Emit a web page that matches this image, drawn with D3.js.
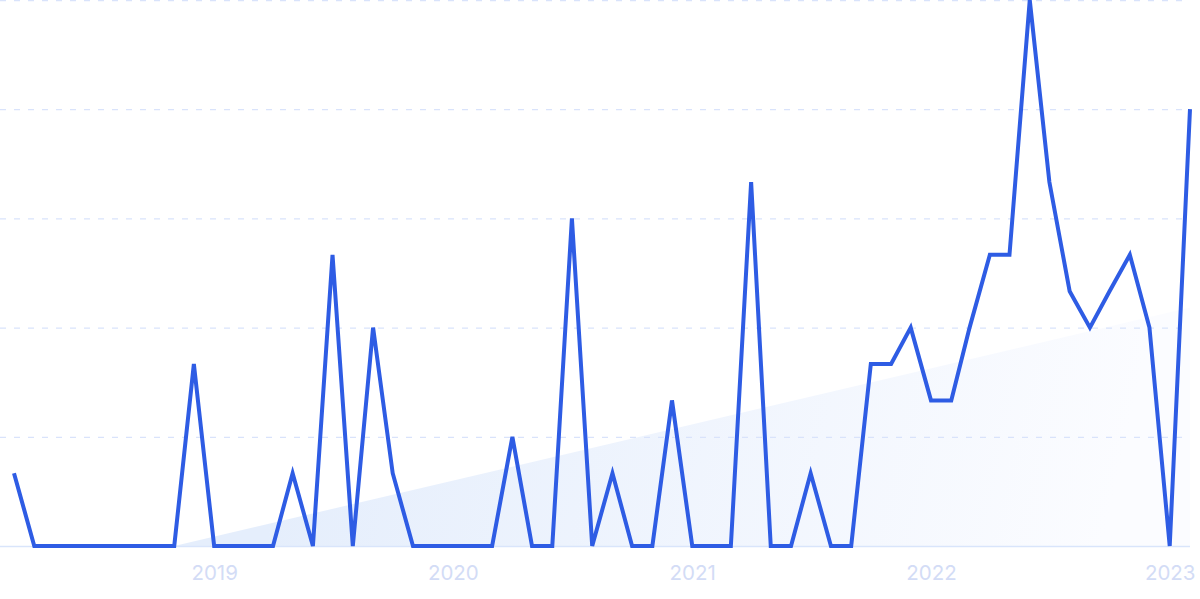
<!DOCTYPE html>
<html>
<head>
<meta charset="utf-8">
<script src="https://cdn.jsdelivr.net/npm/d3@7"></script>
<style>
html,body{margin:0;padding:0;background:#fff;}
svg{display:block;}
</style>
</head>
<body>
<svg id="chart" width="1200" height="599"></svg>
<script>
// Monthly values, March 2018 .. February 2023
const startMonth = "2018-03";
const values = [
  2, 0, 0, 0, 0, 0, 0, 0, 0, 5,
  0, 0, 0, 0, 2, 0, 8, 0, 6, 2,
  0, 0, 0, 0, 0, 3, 0, 0, 9, 0,
  2, 0, 0, 4, 0, 0, 0, 10, 0, 0,
  2, 0, 0, 5, 5, 6, 4, 4, 6, 8,
  8, 15, 10, 7, 6, 7, 8, 6, 0, 12
];
const tickLabels = ["2019", "2020", "2021", "2022", "2023"];
const gridValues = [0, 3, 6, 9, 12, 15];
// Trend band: start and end (date, value)
const trendDates = ["2018-11", "2023-02"];
const trendValues = [0, 6.55];

const parse = d3.timeParse("%Y-%m");
const start = parse(startMonth);
const data = values.map((v, i) => ({date: d3.timeMonth.offset(start, i), value: v}));
const trend = trendDates.map((d, i) => ({date: parse(d), value: trendValues[i]}));

const svg = d3.select("#chart");
const x = d3.scaleTime()
  .domain([data[0].date, data[data.length - 1].date])
  .range([14, 1190]);
const y = d3.scaleLinear().domain([0, 15]).range([546, 0]);

const defs = svg.append("defs");
const grad = defs.append("linearGradient")
  .attr("id", "trendGrad")
  .attr("gradientUnits", "userSpaceOnUse")
  .attr("x1", 300).attr("y1", 380).attr("x2", 1100).attr("y2", 560);
grad.append("stop").attr("offset", "0").attr("stop-color", "#e5eefc");
grad.append("stop").attr("offset", "1").attr("stop-color", "#fbfcff");

// trend area
svg.append("path")
  .datum(trend)
  .attr("fill", "url(#trendGrad)")
  .attr("d", d3.area().x(d => x(d.date)).y0(y(0)).y1(d => y(d.value)));

// gridlines
svg.append("g")
  .selectAll("line")
  .data(gridValues.filter(v => v > 0))
  .join("line")
  .attr("x1", 0).attr("x2", 1186)
  .attr("y1", d => y(d) + 0.5).attr("y2", d => y(d) + 0.5)
  .attr("stroke", "#d9e3fb")
  .attr("stroke-width", 1.3)
  .attr("stroke-dasharray", "6,8");

// baseline
svg.append("line")
  .attr("x1", 0).attr("x2", 1190)
  .attr("y1", y(0) + 0.5).attr("y2", y(0) + 0.5)
  .attr("stroke", "#d9e5fb")
  .attr("stroke-width", 1.5);

// x axis labels
const tickDates = tickLabels.map(t => d3.timeParse("%Y")(t));
const xAxis = d3.axisBottom(x)
  .tickValues(tickDates)
  .tickFormat((d, i) => tickLabels[i])
  .tickSize(0)
  .tickPadding(0);
const gx = svg.append("g")
  .attr("transform", "translate(0,580)")
  .call(xAxis);
gx.select(".domain").remove();
gx.selectAll("text")
  .attr("fill", "#d3dcf6")
  .attr("font-family", "Inter, 'Noto Sans', sans-serif")
  .attr("font-size", 20.5)
  .attr("dy", "0");

// line
svg.append("path")
  .datum(data)
  .attr("fill", "none")
  .attr("stroke", "#2e5ce4")
  .attr("stroke-width", 4)
  .attr("stroke-linejoin", "miter")
  .attr("d", d3.line().x(d => x(d.date)).y(d => y(d.value)));
</script>
</body>
</html>
